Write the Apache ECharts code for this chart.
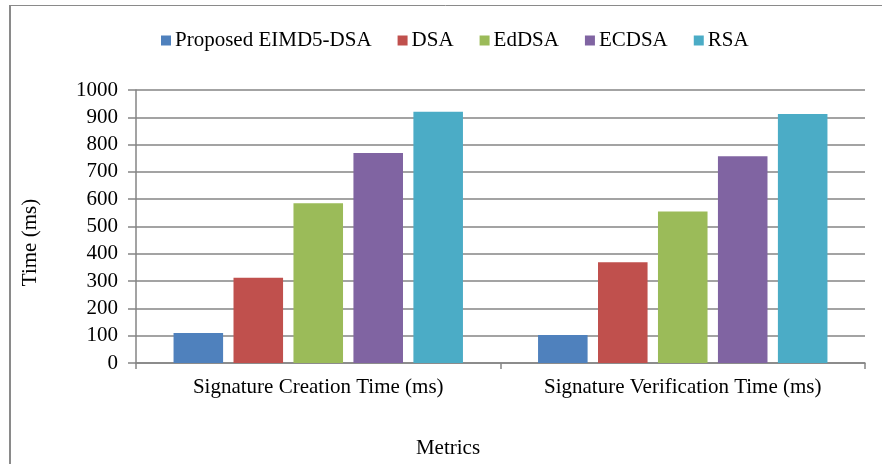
<!DOCTYPE html>
<html>
<head>
<meta charset="utf-8">
<script src="https://cdn.jsdelivr.net/npm/echarts@6/dist/echarts.min.js"></script>
<style>
  html, body { margin: 0; padding: 0; background: #ffffff; }
  #chart { width: 882px; height: 464px; }
</style>
</head>
<body>
<div id="chart"></div>
<script>
// Signing / verification timings for each scheme (ms)
const categories = ['Signature Creation Time (ms)', 'Signature Verification Time (ms)'];
const seriesNames = ['Proposed EIMD5-DSA', 'DSA', 'EdDSA', 'ECDSA', 'RSA'];
const proposedEIMD5 = [110, 103];
const dsa = [312, 369];
const eddsa = [585, 555];
const ecdsa = [769, 757];
const rsa = [920, 912];
const seriesValues = [proposedEIMD5, dsa, eddsa, ecdsa, rsa];
const colors = ['#4F81BD', '#C0504D', '#9BBB59', '#8064A2', '#4BACC6'];

const FONT = '"Liberation Serif", "Times New Roman", serif';
const GRID_GRAY = '#858585';

const chart = echarts.init(document.getElementById('chart'), null, { renderer: 'canvas' });

chart.setOption({
  backgroundColor: '#ffffff',
  animation: false,
  color: colors,
  textStyle: { fontFamily: FONT, color: '#000000' },
  legend: {
    left: 161,
    top: 30,
    padding: 0,
    itemWidth: 10,
    itemHeight: 10,
    itemGap: 26,
    icon: 'rect',
    textStyle: { fontFamily: FONT, fontSize: 21, color: '#000000', padding: [0, 0, 0, -1] },
    data: seriesNames
  },
  grid: { left: 136, right: 17, top: 90, bottom: 101, containLabel: false },
  xAxis: {
    type: 'category',
    data: categories,
    axisLine: { show: true, lineStyle: { color: GRID_GRAY, width: 1.5 } },
    axisTick: { show: true, alignWithLabel: false, length: 6, lineStyle: { color: GRID_GRAY, width: 1.5 } },
    axisLabel: { fontFamily: FONT, fontSize: 21, color: '#000000', margin: 14 },
    splitLine: { show: false }
  },
  yAxis: {
    type: 'value',
    min: 0,
    max: 1000,
    interval: 100,
    axisLine: { show: true, lineStyle: { color: GRID_GRAY, width: 1.5 } },
    axisTick: { show: true, length: 8, lineStyle: { color: GRID_GRAY, width: 1.5 } },
    axisLabel: { fontFamily: FONT, fontSize: 21, color: '#000000', margin: 18, formatter: v => String(v) },
    splitLine: { show: true, lineStyle: { color: GRID_GRAY, width: 1.5 } }
  },
  series: seriesNames.map((name, i) => ({
    name: name,
    type: 'bar',
    data: seriesValues[i],
    barGap: '21%',
    barCategoryGap: '20.6%',
    itemStyle: { color: colors[i] }
  })),
  graphic: [
    // outer frame (top and left edges)
    { type: 'line', shape: { x1: 9, y1: 5.5, x2: 882, y2: 5.5 }, style: { stroke: '#8a8a8a', lineWidth: 1 } },
    { type: 'line', shape: { x1: 10, y1: 5, x2: 10, y2: 464 }, style: { stroke: '#8a8a8a', lineWidth: 2 } },
    // axis titles
    {
      type: 'text',
      x: 30.5, y: 242.5,
      rotation: Math.PI / 2,
      style: { text: 'Time (ms)', font: '21px ' + FONT, fill: '#000000', textAlign: 'center', textVerticalAlign: 'middle' }
    },
    {
      type: 'text',
      x: 448, y: 448,
      style: { text: 'Metrics', font: '21px ' + FONT, fill: '#000000', textAlign: 'center', textVerticalAlign: 'middle' }
    }
  ]
});
</script>
</body>
</html>
